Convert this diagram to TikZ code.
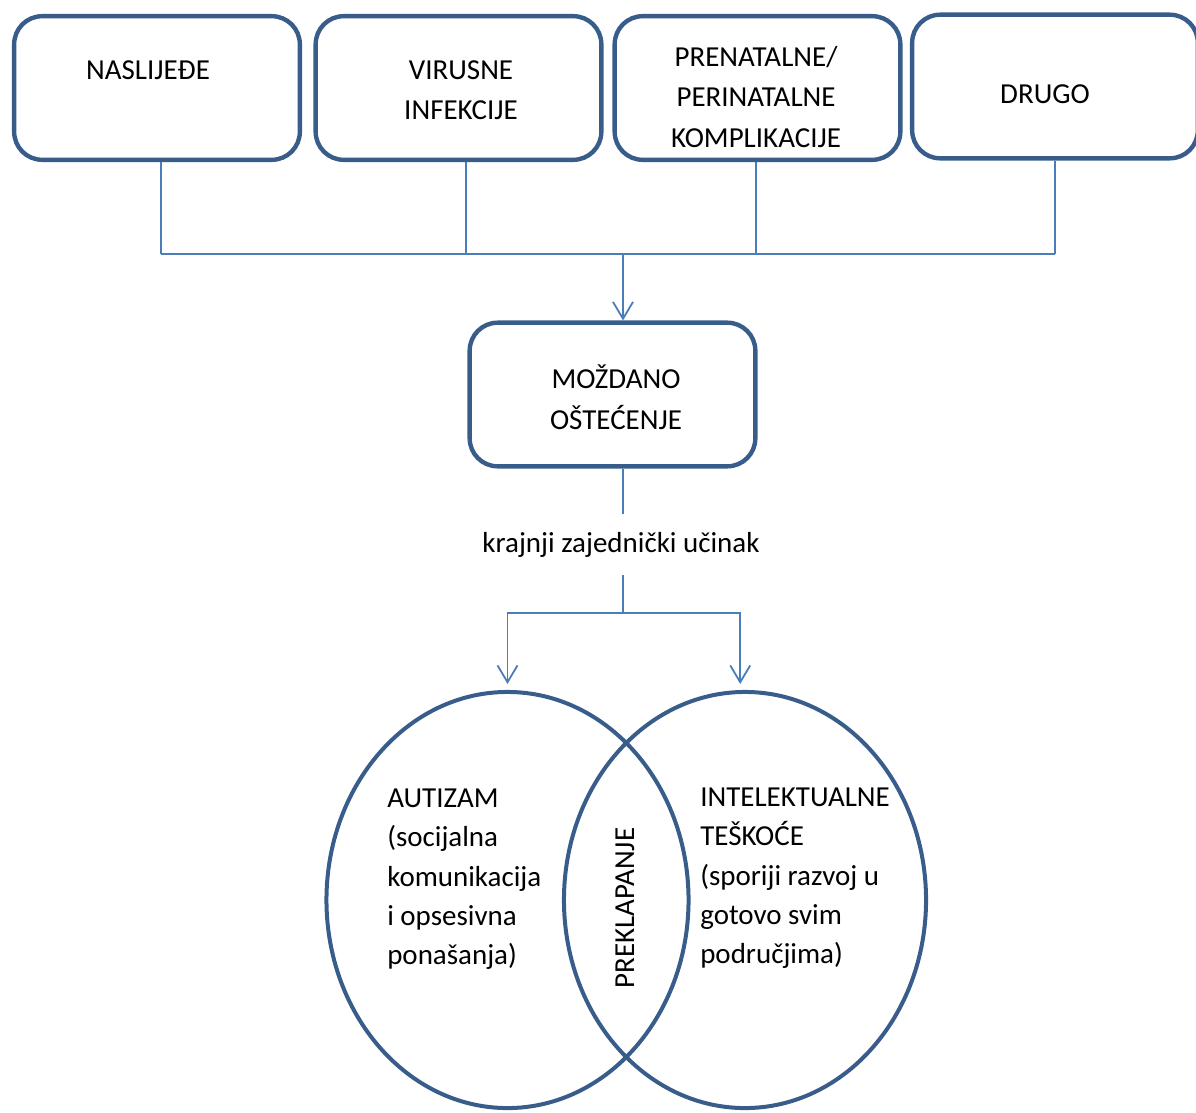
\documentclass[tikz,border=0pt]{standalone}
\usepackage{fontspec}
\setmainfont{Carlito}
\usetikzlibrary{arrows.meta,shapes.geometric}
\definecolor{boxblue}{HTML}{385D8A}
\definecolor{lineblue}{HTML}{4A7EBB}
\tikzset{
  uzrok/.style={draw=boxblue, line width=0.11cm, rounded corners=0.7cm, minimum width=7.14cm, minimum height=3.59cm, inner sep=0},
  krug/.style={ellipse, draw=boxblue, line width=0.1cm, minimum width=9.05cm, minimum height=10.4cm, inner sep=0, outer sep=0},
  veza/.style={draw=lineblue, line width=0.045cm},
  strelica/.style={veza, -{Straight Barb[length=0.42cm,width=0.5cm]}},
  tekst/.style={font=\fontsize{20.6pt}{28.8pt}\selectfont, align=center, inner sep=0},
  gusto/.style={font=\fontsize{20.6pt}{27.8pt}\selectfont, align=left, inner sep=0, anchor=north west},
}

\begin{document}
\begin{tikzpicture}[x=0.025cm, y=-0.025cm]
  %%%%% START %%%%%
  \useasboundingbox (0,0) rectangle (1196,1112);

  % uzroci
  \node[uzrok] (nasl) at (157,88) {};
  \node[uzrok] (virus) at (458.5,88) {};
  \node[uzrok] (prenat) at (757.5,88) {};
  \node[uzrok] (drugo) at (1055,86.5) {};
  \node[tekst] (nasl-t) at (148,70) {NASLIJEĐE};
  \node[tekst] (virus-t) at (461,90) {VIRUSNE\\INFEKCIJE};
  \node[tekst] (prenat-t) at (756,97) {PRENATALNE/\\PERINATALNE\\KOMPLIKACIJE};
  \node[tekst] (drugo-t) at (1045,94) {DRUGO};

  % ostecenje
  \node[uzrok] (mozd) at (612.5,394.5) {};
  \node[tekst] (mozd-t) at (616,397) {MOŽDANO\\OŠTEĆENJE};
  \node[tekst, anchor=base, inner ysep=0.45cm] (ucinak) at (621,552) {krajnji zajednički učinak};

  % krugovi
  \node[krug] (aut) at (507.5,900) {};
  \node[krug] (intel) at (745,900) {};
  \node[gusto] (aut-t) at (387,789) {AUTIZAM\\(socijalna\\komunikacija\\i opsesivna\\ponašanja)};
  \node[gusto] (intel-t) at (700,788) {INTELEKTUALNE\\TEŠKOĆE\\(sporiji razvoj u\\gotovo svim\\područjima)};
  \node[tekst, rotate=90] (prek) at (625,908) {PREKLAPANJE};

  % veze
  \coordinate (sabir) at (623,254);
  \coordinate (grana) at (623,613);
  \foreach \b/\d in {nasl/0.1,virus/0.19,prenat/-0.03,drugo/0}
    \draw[veza] ([xshift=\d cm]\b.south) -- ([xshift=\d cm]\b.south |- sabir);
  \draw[veza] ([xshift=0.1cm]nasl.south |- sabir) -- (drugo.south |- sabir);
  \draw[strelica] (sabir) -- (sabir |- mozd.north);
  \draw[veza] (sabir |- mozd.south) -- (sabir |- ucinak.north);
  \draw[veza] (sabir |- ucinak.south) -- (grana);
  \draw[strelica, shorten >=0.2cm] (grana) -| (aut.north);
  \draw[strelica, shorten >=0.2cm] (grana) -| ([xshift=-0.12cm]intel.north);
  %%%%% END %%%%%
\end{tikzpicture}
\end{document}
